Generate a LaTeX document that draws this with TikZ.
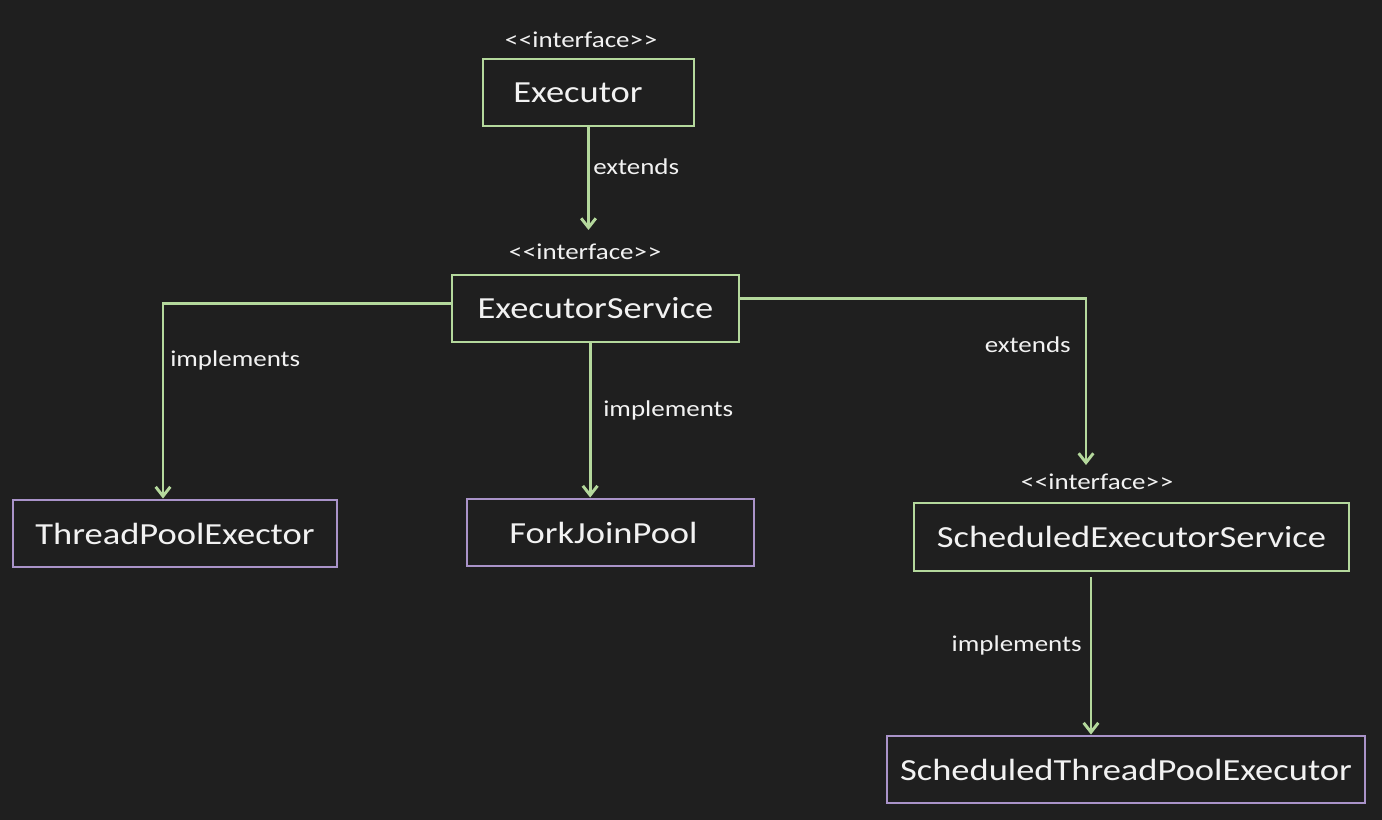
\documentclass[tikz,border=0pt]{standalone}
\usepackage{fontspec}
\setmainfont{Carlito}[FakeStretch=1.19]
\usetikzlibrary{arrows.meta,calc}
\definecolor{bg}{HTML}{1F1F1F}
\definecolor{grn}{HTML}{B4D89C}
\definecolor{prp}{HTML}{A993C9}
\definecolor{txt}{HTML}{F2F2F2}
\newcommand{\stereo}{<\kern0.6pt<interface>\kern0.6pt>}
\begin{document}
\begin{tikzpicture}[x=0.75pt,y=-0.75pt,
  box/.style={draw, line width=2.2pt, inner sep=0pt, text=txt, font=\fontsize{23}{27}\selectfont},
  iface/.style={box, draw=grn},
  cls/.style={box, draw=prp},
  small/.style={text=txt, font=\fontsize{17}{20}\selectfont, inner sep=0pt},
  conn/.style={grn, line width=2.2pt, -{Straight Barb[length=7pt,width=11pt]}}]
\fill[bg] (0,0) rectangle (1382,820);
\useasboundingbox (0,0) rectangle (1382,820);

% boxes
\node[iface, minimum width=211*0.75pt, minimum height=67*0.75pt] (ex) at (588.5,92.5) {Executor\kern15.75pt};
\node[iface, minimum width=287*0.75pt, minimum height=67*0.75pt] (es) at (595.5,308.5) {ExecutorService};
\node[cls, minimum width=324*0.75pt, minimum height=67*0.75pt] (tpe) at (175,533.5) {ThreadPoolExector};
\node[cls, minimum width=287*0.75pt, minimum height=67*0.75pt] (fjp) at (610.5,532.5) {ForkJoinPool\kern10.5pt};
\node[iface, minimum width=435*0.75pt, minimum height=68*0.75pt] (ses) at (1131.5,537) {ScheduledExecutorService};
\node[cls, minimum width=478*0.75pt, minimum height=67*0.75pt] (stpe) at (1126,769.5) {ScheduledThreadPoolExecutor};

% stereotypes
\node[small] (s1) at (581,40) {\stereo};
\node[small] (s2) at (585,252) {\stereo};
\node[small] (s3) at (1097,482) {\stereo};

% free ends
\coordinate (a1) at (588.5,230);
\coordinate (a4) at (1086,465);

% connectors
\draw[conn] (ex.south) -- (a1);
\draw[conn] ([yshift=3.75pt]es.west) -| ([xshift=-9pt]tpe.north);
\draw[conn] ([xshift=-4pt]es.south) -- ([xshift=-4pt]es.south |- fjp.north);
\draw[conn] ([yshift=7.5pt]es.east) -| (a4);
\draw[conn] ([xshift=-30.4pt,yshift=-3.75pt]ses.south) -- ([xshift=-30.4pt]ses.south |- stpe.north);

% labels
\node[small, anchor=west] (l1) at (593,167) {extends};
\node[small, anchor=west] (l2) at (170,360) {implements};
\node[small, anchor=west] (l3) at (603,410) {implements};
\node[small, anchor=east] (l4) at (1071,345) {extends};
\node[small, anchor=east] (l5) at (1082,645) {implements};
\end{tikzpicture}
\end{document}
